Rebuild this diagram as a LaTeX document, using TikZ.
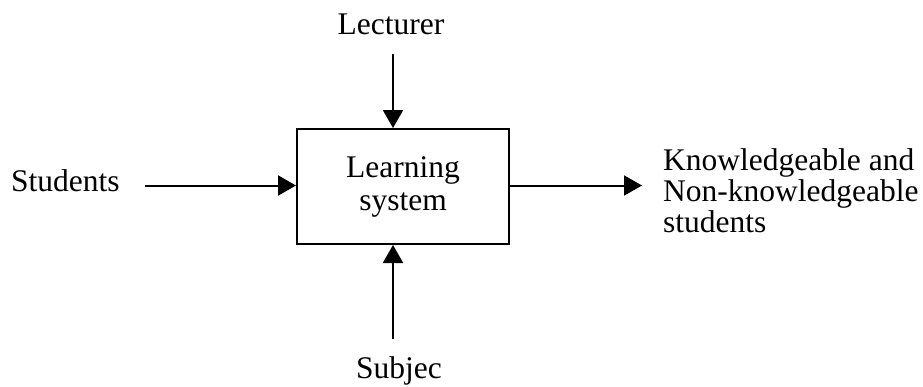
\documentclass[tikz,border=0pt]{standalone}
\usepackage{fontspec}
\setmainfont{Liberation Serif}
\usetikzlibrary{arrows.meta}
\begin{document}
\begin{tikzpicture}[x=1pt,y=-1pt,
  every node/.style={font=\fontsize{31.5}{31}\selectfont, inner sep=0pt},
  flow/.style={line width=2pt, -{Triangle[length=18pt,width=20pt]}},
  sysbox/.style={draw, line width=2pt, minimum width=212pt, minimum height=115pt, align=center}]
\useasboundingbox (0,0) rectangle (923,386);
% the learning system block
\node[sysbox] (sys) at (403,186.5) {Learning\\[2pt]system};
% inputs, control, resource and output labels
\node (lect) at (391,24) {Lecturer};
\node[anchor=west] (stud) at (11,181) {Students};
\node (subj) at (399,371) {Subjec};
\node[anchor=west, align=left] (out) at (663,191) {Knowledgeable and\\Non-knowledgeable\\students};
% free ends of the connectors
\coordinate (lectEnd) at (393,54);
\coordinate (studEnd) at (145,185.5);
\coordinate (subjEnd) at (393,339);
\coordinate (outEnd) at (642,185.5);
% connectors
\draw[flow] (lectEnd) -- (lectEnd |- sys.north);
\draw[flow] (studEnd) -- (studEnd -| sys.west);
\draw[flow] (subjEnd) -- (subjEnd |- sys.south);
\draw[flow] (outEnd -| sys.east) -- (outEnd);
\end{tikzpicture}
\end{document}
